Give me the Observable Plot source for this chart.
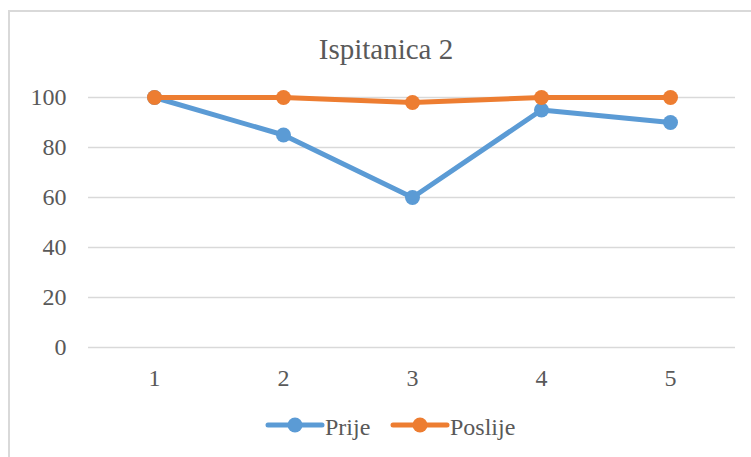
<!DOCTYPE html>
<html>
<head>
<meta charset="utf-8">
<script src="https://cdn.jsdelivr.net/npm/d3@7"></script>
<script src="https://cdn.jsdelivr.net/npm/@observablehq/plot@0.6"></script>
<style>
  html, body { margin: 0; padding: 0; background: #fff; }
  #wrap { position: relative; width: 751px; height: 457px; overflow: hidden; font-family: "Liberation Serif", "Times New Roman", serif; color: #595959; }
  #frame { position: absolute; left: 8px; top: 10px; width: 800px; height: 500px; border-left: 2px solid #d9d9d9; border-top: 2px solid #d9d9d9; }
  #title { position: absolute; left: 0; top: 35px; width: 772px; text-align: center; font-size: 29px; line-height: 1; }
  #chart { position: absolute; left: 0; top: 0; }
  #legend { position: absolute; left: 0; top: 415px; width: 751px; font-size: 24px; line-height: 1; }
  .item { position: absolute; top: 0; display: flex; align-items: center; }
  .item svg { display: block; }
</style>
</head>
<body>
<div id="wrap">
  <div id="frame"></div>
  <div id="chart"></div>
  <div id="title"></div>
  <div id="legend"></div>
</div>
<script>
const title = "Ispitanica 2";
const categories = ["1", "2", "3", "4", "5"];
const seriesNames = ["Prije", "Poslije"];
const prije = [100, 85, 60, 95, 90];
const poslije = [100, 100, 98, 100, 100];
const yTicks = [0, 20, 40, 60, 80, 100];
const colors = ["#5B9BD5", "#ED7D31"];

const data = [];
categories.forEach((c, i) => data.push({cat: c, value: prije[i], series: seriesNames[0]}));
categories.forEach((c, i) => data.push({cat: c, value: poslije[i], series: seriesNames[1]}));
const d0 = data.filter(d => d.series === seriesNames[0]);
const d1 = data.filter(d => d.series === seriesNames[1]);

document.getElementById("title").textContent = title;

const plot = Plot.plot({
  width: 751,
  height: 400,
  marginLeft: 88,
  marginRight: 16,
  marginTop: 97,
  marginBottom: 53,
  style: { fontFamily: '"Liberation Serif", "Times New Roman", serif', fontSize: "24px", color: "#595959", background: "transparent" },
  x: { type: "point", domain: categories, padding: 0.5, label: null, tickSize: 0, tickPadding: 21 },
  y: { domain: [0, 100], ticks: yTicks, label: null, tickSize: 0, tickPadding: 22 },
  color: { domain: seriesNames, range: colors },
  marks: [
    Plot.gridY(yTicks, { stroke: "#d9d9d9", strokeOpacity: 1, strokeWidth: 1.5 }),
    Plot.axisX({ tickSize: 0, tickPadding: 21, fontSize: 24, fill: "#595959" }),
    Plot.axisY(yTicks, { tickSize: 0, tickPadding: 22, fontSize: 24, fill: "#595959" }),
    Plot.line(d0, { x: "cat", y: "value", stroke: colors[0], strokeWidth: 5, strokeLinejoin: "round", strokeLinecap: "round" }),
    Plot.dot(d0, { x: "cat", y: "value", r: 7.5, fill: colors[0], stroke: null }),
    Plot.line(d1, { x: "cat", y: "value", stroke: colors[1], strokeWidth: 5, strokeLinejoin: "round", strokeLinecap: "round" }),
    Plot.dot(d1, { x: "cat", y: "value", r: 7.5, fill: colors[1], stroke: null })
  ]
});
document.getElementById("chart").appendChild(plot);

// legend
const legend = document.getElementById("legend");
const lefts = [265, 390];
seriesNames.forEach((name, i) => {
  const item = document.createElement("div");
  item.className = "item";
  item.style.left = lefts[i] + "px";
  item.innerHTML = `<svg width="60" height="24" style="margin-top:-4px"><line x1="3" x2="57" y1="12" y2="12" stroke="${colors[i]}" stroke-width="5" stroke-linecap="round"/><circle cx="30" cy="12" r="7.5" fill="${colors[i]}"/></svg><span>${name}</span>`;
  legend.appendChild(item);
});
</script>
</body>
</html>
